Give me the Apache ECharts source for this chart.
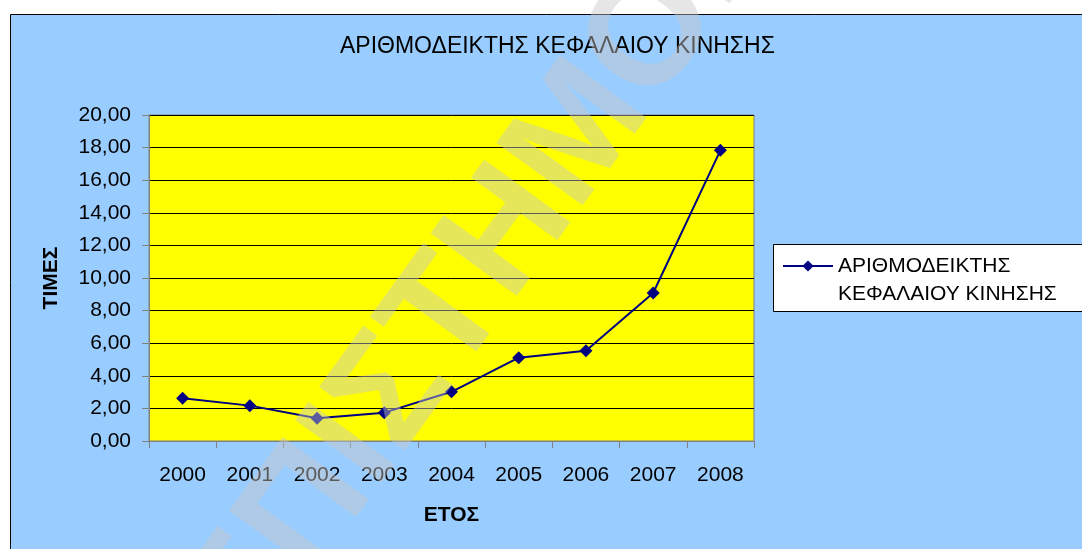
<!DOCTYPE html>
<html>
<head>
<meta charset="utf-8">
<script src="https://cdn.jsdelivr.net/npm/echarts@6/dist/echarts.min.js"></script>
<style>
html,body{margin:0;padding:0;background:#fff;}
#chart{width:1082px;height:549px;}
</style>
</head>
<body>
<div id="chart"></div>
<script>
var chartTitle = 'ΑΡΙΘΜΟΔΕΙΚΤΗΣ ΚΕΦΑΛΑΙΟΥ ΚΙΝΗΣΗΣ';
var seriesName = 'ΑΡΙΘΜΟΔΕΙΚΤΗΣ\nΚΕΦΑΛΑΙΟΥ ΚΙΝΗΣΗΣ';
var years = ['2000','2001','2002','2003','2004','2005','2006','2007','2008'];
var values = [2.62, 2.17, 1.39, 1.74, 3.02, 5.11, 5.54, 9.08, 17.83];
var xAxisName = 'ΕΤΟΣ';
var yAxisName = 'ΤΙΜΕΣ';
var watermarkText = 'ΕΠΙΣΤΗΜΟΝΙΚΟ';

var FONT = 'Arial, "Liberation Sans", sans-serif';
var chart = echarts.init(document.getElementById('chart'));
var ang = 54 * Math.PI / 180;
var option = {
  backgroundColor: '#ffffff',
  animation: false,
  graphic: [
    { type: 'rect', z: -10, shape: { x: 10.5, y: 14.5, width: 1100, height: 560 },
      style: { fill: '#99CCFF', stroke: '#000000', lineWidth: 1 } },
    { type: 'rect', z: 5, shape: { x: 773.5, y: 244.5, width: 330, height: 67 },
      style: { fill: '#ffffff', stroke: '#000000', lineWidth: 1 } },
    { type: 'text', z: 100, x: 214, y: 640, rotation: ang,
      style: { text: watermarkText, font: 'bold 155px ' + FONT, fill: 'rgba(200,200,200,0.45)',
               align: 'left', verticalAlign: 'middle' } }
  ],
  title: {
    text: chartTitle, left: 335, top: 30,
    textStyle: { fontFamily: FONT, fontSize: 23, fontWeight: 'normal', color: '#000' }
  },
  legend: {
    left: 782, top: 224, padding: 0, z: 6,
    itemWidth: 50, itemHeight: 14, itemGap: 0,
    data: [{ name: seriesName }],
    formatter: function (name) { return ' \n' + name; },
    textStyle: { fontFamily: FONT, fontSize: 21, color: '#000', lineHeight: 28 }
  },
  grid: { left: 149, right: 328, top: 115, bottom: 108, show: true,
          backgroundColor: '#FFFF00', borderColor: '#808080', borderWidth: 1 },
  xAxis: {
    type: 'category', data: years, boundaryGap: true,
    name: xAxisName, nameLocation: 'middle', nameGap: 64,
    nameTextStyle: { fontFamily: FONT, fontSize: 21, fontWeight: 'bold', color: '#000' },
    axisLine: { lineStyle: { color: '#808080', width: 1 } },
    axisTick: { show: true, length: 7, alignWithLabel: false, lineStyle: { color: '#808080' } },
    axisLabel: { margin: 24, fontFamily: FONT, fontSize: 21, color: '#000' },
    splitLine: { show: false }
  },
  yAxis: {
    type: 'value', min: 0, max: 20, interval: 2,
    name: yAxisName, nameLocation: 'middle', nameGap: 87, nameRotate: 90,
    nameTextStyle: { fontFamily: FONT, fontSize: 21, fontWeight: 'bold', color: '#000' },
    axisLine: { show: true, lineStyle: { color: '#808080', width: 1 } },
    axisTick: { show: true, length: 7, lineStyle: { color: '#808080' } },
    axisLabel: { margin: 18, fontFamily: FONT, fontSize: 21, color: '#000',
      formatter: function (v) { return v.toFixed(2).replace('.', ','); } },
    splitLine: { show: true, lineStyle: { color: '#000000', width: 1 } }
  },
  series: [{
    name: seriesName, type: 'line', data: values,
    symbol: 'diamond', symbolSize: 13,
    lineStyle: { color: '#000080', width: 2 },
    itemStyle: { color: '#000080' }
  }]
};
chart.setOption(option);
</script>
</body>
</html>
